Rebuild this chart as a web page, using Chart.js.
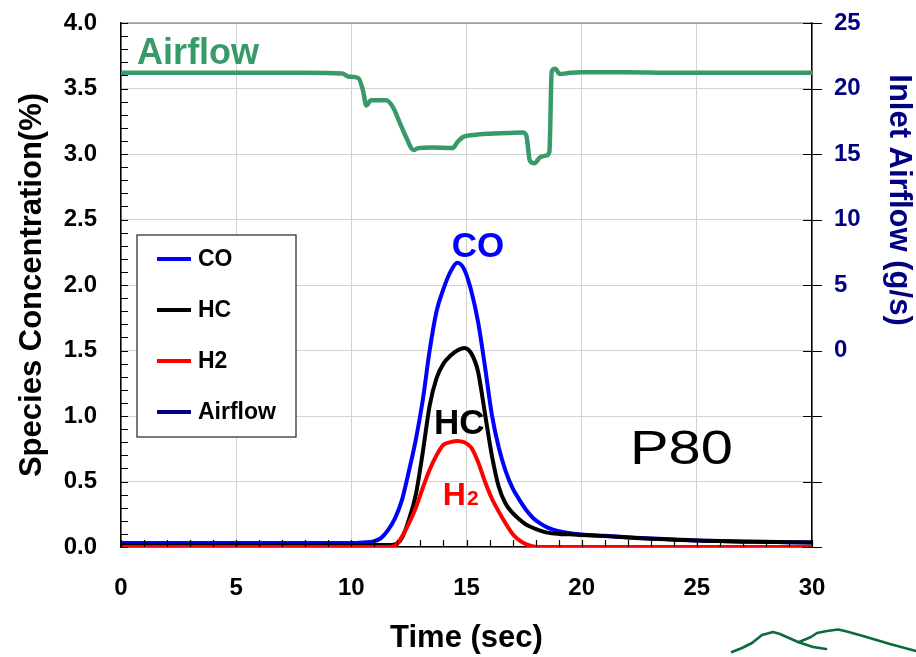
<!DOCTYPE html>
<html>
<head>
<meta charset="utf-8">
<script src="https://cdn.jsdelivr.net/npm/chart.js@4.4.1/dist/chart.umd.min.js"></script>
<style>
  html, body { margin: 0; padding: 0; background: #fff; }
  #wrap { width: 916px; height: 657px; position: relative; }
</style>
</head>
<body>
<div id="wrap"><canvas id="speciesChart"></canvas></div>
<script>
const FONT = '"Liberation Sans", Arial, Helvetica, sans-serif';

// species traces, common time base (sec), values in %
const speciesTime = [0, 2, 4, 6, 8, 10, 10.5, 11, 11.3, 11.6, 11.9, 12.2, 12.5, 12.8, 13.1, 13.4, 13.7, 14.0, 14.3, 14.6,
    14.9, 15.2, 15.5, 15.8, 16.1, 16.4, 16.7, 17.0, 17.3, 17.6, 17.9, 18.2, 18.5, 19, 19.5, 20, 21, 22, 23, 24, 25, 26, 27, 28, 29, 30];
const coValues = [0.03, 0.03, 0.03, 0.03, 0.03, 0.03, 0.035, 0.045, 0.07, 0.13, 0.22, 0.36, 0.58, 0.82, 1.12, 1.50, 1.80, 1.97, 2.10, 2.17,
    2.12, 1.96, 1.72, 1.38, 1.01, 0.76, 0.58, 0.45, 0.36, 0.28, 0.22, 0.18, 0.15, 0.12, 0.105, 0.095, 0.085, 0.075, 0.065, 0.058, 0.05, 0.046, 0.042, 0.04, 0.037, 0.035];
const hcValues = [0.015, 0.015, 0.015, 0.015, 0.015, 0.015, 0.015, 0.015, 0.015, 0.015, 0.02, 0.07, 0.21, 0.40, 0.72, 1.08, 1.29, 1.40, 1.46, 1.50,
    1.52, 1.48, 1.34, 1.02, 0.70, 0.46, 0.33, 0.26, 0.21, 0.17, 0.145, 0.125, 0.11, 0.10, 0.097, 0.092, 0.083, 0.073, 0.063, 0.056, 0.049, 0.045, 0.041, 0.039, 0.036, 0.034];
const h2Values = [0, 0, 0, 0, 0, 0, 0, 0, 0, 0, 0.01, 0.08, 0.18, 0.30, 0.45, 0.59, 0.70, 0.78, 0.80, 0.81,
    0.80, 0.76, 0.65, 0.50, 0.37, 0.27, 0.18, 0.10, 0.05, 0.02, 0.005, 0, 0, 0, 0, 0, 0, 0, 0, 0, 0, 0, 0, 0, 0, 0];

// inlet airflow trace (g/s), own time base
const airTime = [0, 2, 4, 6, 8, 9.6, 9.9, 10.3, 10.5, 10.65, 10.85, 11.5, 11.8, 12.1, 12.4, 12.7, 12.9, 13.5, 14.4, 14.6,
    14.85, 15.3, 16.0, 16.8, 17.45, 17.6, 17.75, 17.95, 18.2, 18.5, 18.6, 18.7, 18.85, 19.05, 19.5, 20, 22, 24, 26, 28, 30];
const airValues = [21.2, 21.2, 21.2, 21.2, 21.2, 21.15, 20.9, 20.8, 19.9, 18.7, 19.1, 19.1, 18.6, 17.4, 16.2, 15.3, 15.45, 15.5, 15.45, 15.9,
    16.3, 16.45, 16.55, 16.6, 16.65, 16.4, 14.5, 14.3, 14.75, 14.9, 15.2, 21.3, 21.5, 21.1, 21.2, 21.25, 21.25, 21.2, 21.2, 21.2, 21.2];

// axis ranges / tick steps
const timeRange = [0, 30];
const concRange = [0, 4];
const airRange = [-15, 25];

const GREEN = '#389a68';
const NAVY = '#000080';

function toPoints(xs, ys) {
    return xs.map((x, i) => ({ x: x, y: ys[i] }));
}

// fixed axis box sizes so the plot area lands where the original has it
function fixVertical(width) {
    return s => {
        s.width = width;
        s.paddingTop = 0;
        s.paddingBottom = 0;
    };
}

// ticks, borders, legend, labels and the little pen stroke
const decorPlugin = {
    id: 'decor',
    afterDatasetsDraw(chart) {
        const ctx = chart.ctx;
        const { left, top, right, bottom } = chart.chartArea;
        const xs = chart.scales.x, ys = chart.scales.y;
        ctx.save();

        // in-plot labels
        ctx.textBaseline = 'middle';
        ctx.textAlign = 'left';
        ctx.fillStyle = GREEN;
        ctx.font = 'bold 36px ' + FONT;
        ctx.fillText('Airflow', xs.getPixelForValue(0.7), ys.getPixelForValue(3.76));

        ctx.textAlign = 'center';
        ctx.fillStyle = '#0000ff';
        ctx.font = 'bold 35px ' + FONT;
        ctx.fillText('CO', xs.getPixelForValue(15.5), ys.getPixelForValue(2.285));

        ctx.fillStyle = '#000';
        ctx.fillText('HC', xs.getPixelForValue(14.69), ys.getPixelForValue(0.94));

        ctx.textAlign = 'left';
        ctx.textBaseline = 'alphabetic';
        ctx.fillStyle = '#ff0000';
        ctx.font = 'bold 32px ' + FONT;
        const hx = xs.getPixelForValue(13.97), hy = ys.getPixelForValue(0.32);
        ctx.fillText('H', hx, hy);
        const hw = ctx.measureText('H').width;
        ctx.font = 'bold 21px ' + FONT;
        ctx.fillText('2', hx + hw + 1, hy);

        // P80
        ctx.fillStyle = '#000';
        ctx.font = '49px ' + FONT;
        ctx.textBaseline = 'middle';
        ctx.save();
        ctx.translate(xs.getPixelForValue(22.1), ys.getPixelForValue(0.74));
        ctx.scale(1.18, 1);
        ctx.fillText('P80', 0, 0);
        ctx.restore();

        // legend box
        const bx = left + 16, by = 235, bw = 159, bh = 202;
        ctx.fillStyle = '#fff';
        ctx.fillRect(bx, by, bw, bh);
        ctx.strokeStyle = '#333';
        ctx.lineWidth = 1.3;
        ctx.strokeRect(bx, by, bw, bh);
        ctx.font = 'bold 23px ' + FONT;
        ctx.textBaseline = 'middle';
        chart.data.datasets.forEach((ds, i) => {
            const ly = by + 24 + i * 51;
            ctx.strokeStyle = ds.legendColor || ds.borderColor;
            ctx.lineWidth = 4;
            ctx.beginPath();
            ctx.moveTo(bx + 20, ly);
            ctx.lineTo(bx + 54, ly);
            ctx.stroke();
            ctx.fillStyle = '#000';
            ctx.fillText(ds.label, bx + 61, ly + 1);
        });
        ctx.restore();
    },
    afterDraw(chart) {
        const ctx = chart.ctx;
        const { left, top, right, bottom } = chart.chartArea;
        const xs = chart.scales.x, ys = chart.scales.y, y2 = chart.scales.y2;
        ctx.save();

        // top frame line
        ctx.strokeStyle = '#6f6f6f';
        ctx.lineWidth = 1.2;
        ctx.beginPath();
        ctx.moveTo(left, top);
        ctx.lineTo(right, top);
        ctx.stroke();

        ctx.strokeStyle = '#000';
        ctx.lineWidth = 1.2;
        ctx.beginPath();
        // left axis minor ticks, inward
        for (let i = 0; i <= 40; i++) {
            const y = Math.round(ys.getPixelForValue(i / 10)) + 0.5;
            ctx.moveTo(left, y);
            ctx.lineTo(left + 7, y);
        }
        // time ticks every second, inward
        for (let i = timeRange[0]; i <= timeRange[1]; i++) {
            const x = Math.round(xs.getPixelForValue(i)) + 0.5;
            ctx.moveTo(x, bottom);
            ctx.lineTo(x, bottom - 7);
        }
        // right axis ticks, crossing
        for (let v = airRange[0]; v <= airRange[1]; v += 5) {
            const y = Math.round(y2.getPixelForValue(v)) + 0.5;
            ctx.moveTo(right - 9, y);
            ctx.lineTo(right + 10, y);
        }
        ctx.stroke();

        // right axis title
        ctx.fillStyle = NAVY;
        ctx.font = 'bold 31px ' + FONT;
        ctx.textAlign = 'center';
        ctx.textBaseline = 'middle';
        ctx.translate(899, 200);
        ctx.rotate(Math.PI / 2);
        ctx.fillText('Inlet Airflow (g/s)', 0, 0);
        ctx.setTransform(1, 0, 0, 1, 0, 0);

        // pen stroke bottom right
        ctx.strokeStyle = '#0b6b3a';
        ctx.lineWidth = 2.6;
        ctx.lineCap = 'round';
        ctx.lineJoin = 'round';
        ctx.beginPath();
        [[732, 652], [742, 648], [752, 643], [762, 635], [773, 632], [780, 634], [798, 642], [813, 647], [826, 649]]
            .forEach((p, i) => i ? ctx.lineTo(p[0], p[1]) : ctx.moveTo(p[0], p[1]));
        ctx.stroke();
        ctx.beginPath();
        [[799, 642], [811, 637], [817, 633], [827, 631], [838, 629.5], [845, 631], [863, 636], [890, 644], [916, 651]]
            .forEach((p, i) => i ? ctx.lineTo(p[0], p[1]) : ctx.moveTo(p[0], p[1]));
        ctx.stroke();
        ctx.restore();
    }
};

const lineStyle = {
    borderWidth: 4,
    pointRadius: 0,
    fill: false,
    cubicInterpolationMode: 'monotone'
};

new Chart(document.getElementById('speciesChart'), {
    type: 'line',
    data: {
        datasets: [
            { ...lineStyle, label: 'CO', data: toPoints(speciesTime, coValues), borderColor: '#0000ff', yAxisID: 'y', order: 3 },
            { ...lineStyle, label: 'HC', data: toPoints(speciesTime, hcValues), borderColor: '#000000', yAxisID: 'y', order: 2 },
            { ...lineStyle, label: 'H2', data: toPoints(speciesTime, h2Values), borderColor: '#ff0000', yAxisID: 'y', order: 1 },
            { ...lineStyle, label: 'Airflow', data: toPoints(airTime, airValues), borderColor: GREEN, legendColor: NAVY, borderWidth: 4.5, yAxisID: 'y2', order: 4 }
        ]
    },
    options: {
        responsive: true,
        maintainAspectRatio: false,
        animation: false,
        events: [],
        layout: { padding: { top: 23, left: 0, right: 0, bottom: 0 } },
        plugins: {
            legend: { display: false },
            tooltip: { enabled: false }
        },
        scales: {
            x: {
                type: 'linear',
                min: timeRange[0],
                max: timeRange[1],
                ticks: { stepSize: 5, color: '#000', font: { family: FONT, size: 24, weight: 'bold' }, padding: 27, maxRotation: 0 },
                grid: { color: '#d2d2d2', lineWidth: 1, drawTicks: false },
                border: { color: '#000', width: 1.5 },
                title: { display: true, text: 'Time (sec)', color: '#000', font: { family: FONT, size: 31, weight: 'bold' }, padding: { top: 0, bottom: 0 } },
                afterFit: s => { s.height = 110; s.paddingLeft = 0; s.paddingRight = 0; }
            },
            y: {
                position: 'left',
                min: concRange[0],
                max: concRange[1],
                ticks: { stepSize: 0.5, color: '#000', font: { family: FONT, size: 24, weight: 'bold' }, padding: 24, callback: v => v.toFixed(1) },
                grid: { color: '#d2d2d2', lineWidth: 1, drawTicks: false },
                border: { color: '#000', width: 1.5 },
                title: { display: true, text: 'Species Concentration(%)', color: '#000', font: { family: FONT, size: 31, weight: 'bold' }, padding: { top: 14, bottom: 0 } },
                afterFit: fixVertical(121)
            },
            y2: {
                position: 'right',
                min: airRange[0],
                max: airRange[1],
                ticks: { stepSize: 5, color: NAVY, font: { family: FONT, size: 24, weight: 'bold' }, padding: 22, callback: v => v >= 0 ? String(v) : '' },
                grid: { drawOnChartArea: false, drawTicks: false },
                border: { color: '#000', width: 1.5 },
                afterFit: fixVertical(104)
            }
        }
    },
    plugins: [decorPlugin]
});
</script>
</body>
</html>
